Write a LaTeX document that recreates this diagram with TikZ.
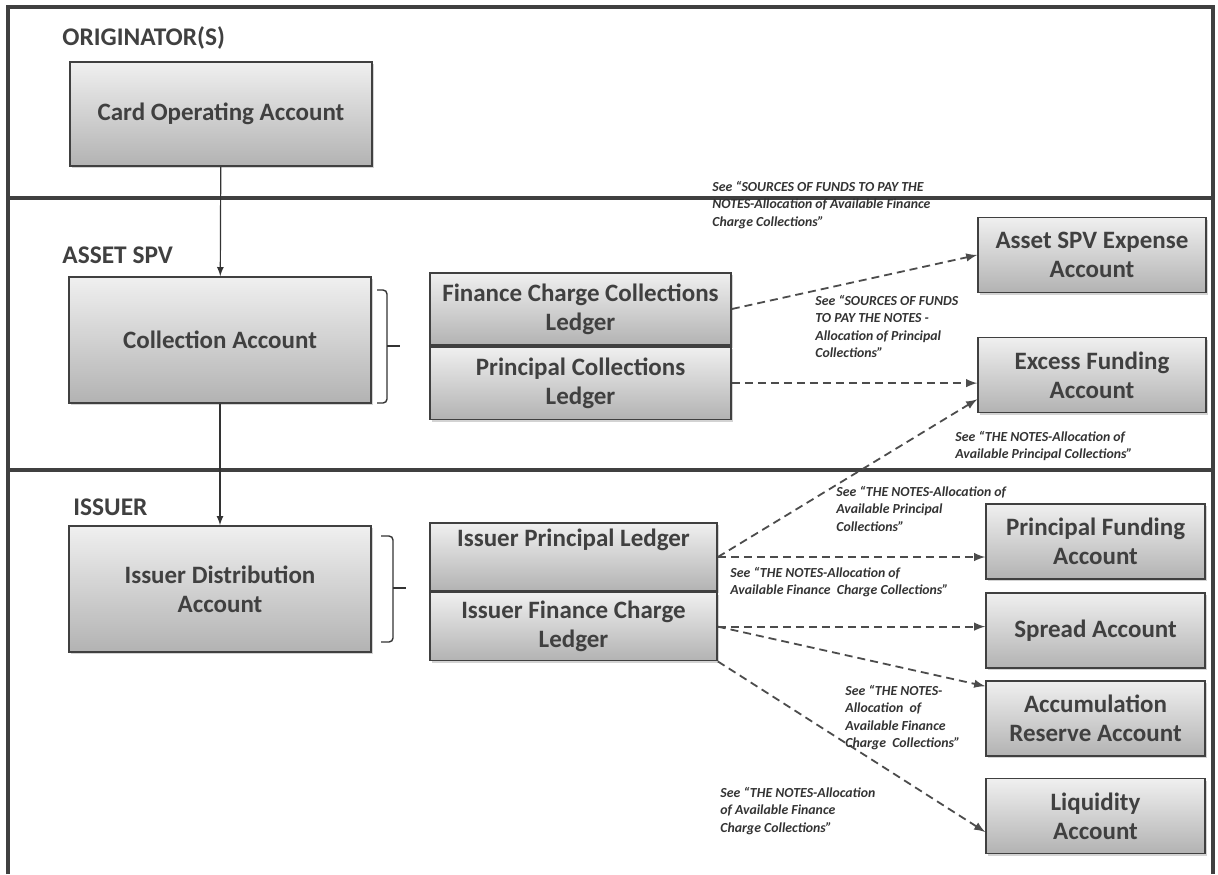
\documentclass[tikz,border=0pt]{standalone}
\usepackage{fontspec}
\setmainfont{Carlito}
\usepackage{tikz}
\usetikzlibrary{positioning,shadows}
\newcommand{\acnode}[4]{\node [#2] (#1) at (#3) {#4}}
\newcommand{\seenode}[3]{\node [seetext] (#1) at (#2) {#3}}

\begin{document}
\begin{tikzpicture}[x=0.5pt,y=-0.5pt,
  frame/.style={draw=black!75, line width=2pt},
  acct/.style={draw=black!75, line width=0.8pt, top color=black!6, bottom color=black!30,
    drop shadow={opacity=0.35, shadow xshift=1.2pt, shadow yshift=-1.2pt},
    align=center, text=black!75, font=\bfseries\fontsize{12.5}{14.5}\selectfont, inner sep=1pt},
  cardbox/.style={acct, minimum width=151pt, minimum height=52pt},
  bigbox/.style={acct, minimum width=151pt, minimum height=63pt},
  ledger/.style={acct, minimum width=150.5pt, minimum height=36.25pt},
  iledger/.style={acct, minimum width=143.5pt, minimum height=34pt},
  sidebox/.style={acct, minimum width=114pt, minimum height=37.5pt},
  lowbox/.style={acct, minimum width=109.5pt, minimum height=37.5pt},
  section/.style={anchor=west, inner sep=0, text=black!75, font=\bfseries\fontsize{12.7}{14}\selectfont},
  seetext/.style={anchor=north west, inner sep=0, align=left, text=black!80,
    font=\bfseries\itshape\fontsize{6.9}{8.7}\selectfont},
  flow/.style={draw=black!80, line width=0.6pt, -latex},
  alloc/.style={draw=black!70, line width=0.9pt, dash pattern=on 4pt off 2.5pt, -latex},
  brace/.style={draw=black!80, line width=0.7pt, rounded corners=2pt}
]
\useasboundingbox (0,0) rectangle (1218,874);

% frame and sections
\draw[frame] (8,874) |- (1213,7) -- (1213,874);
\draw[frame] (8,198) -- (1213,198);
\draw[frame] (8,470) -- (1213,470);

\node[section] (orig) at (62,38) {ORIGINATOR(S)};
\node[section] (aspv) at (62,255) {ASSET SPV};
\node[section] (iss) at (73,507) {ISSUER};

% accounts
\acnode{card}{cardbox}{221,114}{Card Operating Account};
\acnode{coll}{bigbox}{220,340}{Collection Account};
\acnode{ida}{bigbox}{220,589}{Issuer Distribution\\Account};

\acnode{fcl}{ledger}{580.5,309}{Finance Charge Collections\\Ledger};
\node [ledger, below=0pt of fcl] (pcl) {Principal Collections\\Ledger};
\acnode{ipl}{iledger}{573.5,557}{Issuer Principal Ledger\\\strut};
\node [iledger, below=0pt of ipl] (ifl) {Issuer Finance Charge\\Ledger};

\acnode{spv}{sidebox}{1092,255}{Asset SPV Expense\\Account};
\acnode{efa}{sidebox}{1092,375}{Excess Funding\\Account};
\acnode{pfa}{lowbox}{1095.5,541.5}{Principal Funding\\Account};
\acnode{spa}{lowbox}{1095.5,630.5}{Spread Account};
\acnode{ara}{lowbox}{1095.5,718.5}{Accumulation\\Reserve Account};
\acnode{lqa}{lowbox}{1095.5,816}{Liquidity\\Account};

% braces
\draw[brace] (377,290) -| (387,403) -- (377,403);
\draw[brace] (387,346) -- (400,346);
\draw[brace] (381,536) -| (393,642) -- (381,642);
\draw[brace] (393,588) -- (406,588);

% flows
\draw[flow] (card) -- (coll);
\draw[flow] (coll) -- (ida);

\draw[alloc] (fcl.east) -- (spv.west);
\draw[alloc] (pcl.east) -- (pcl.east -| efa.west);
\draw[alloc] (ipl.east) -- ([yshift=7pt]efa.south west);
\draw[alloc] (ipl.east) -- (ipl.east -| pfa.west);
\draw[alloc] (ifl.east) -- (ifl.east -| spa.west);
\draw[alloc] (ifl.east) -- ([yshift=-3pt]ara.north west);
\draw[alloc] (ifl.south east) -- ([yshift=-8pt]lqa.west);

% references
\seenode{lbspv}{712,181}{See “SOURCES OF FUNDS TO PAY THE\\NOTES-Allocation of Available Finance\\Charge Collections”};
\seenode{lbpcl}{815,295}{See “SOURCES OF FUNDS\\TO PAY THE NOTES -\\Allocation of Principal\\Collections”};
\seenode{lbefa}{955,431}{See “THE NOTES-Allocation of\\Available Principal Collections”};
\seenode{lbpfa}{836,486}{See “THE NOTES-Allocation of\\Available Principal\\Collections”};
\seenode{lbspa}{730,567}{See “THE NOTES-Allocation of\\Available Finance~ Charge Collections”};
\seenode{lbara}{845,685}{See “THE NOTES-\\Allocation~ of\\Available Finance\\Charge~ Collections”};
\seenode{lblqa}{720,787}{See “THE NOTES-Allocation\\of Available Finance\\Charge Collections”};

\end{tikzpicture}
\end{document}
